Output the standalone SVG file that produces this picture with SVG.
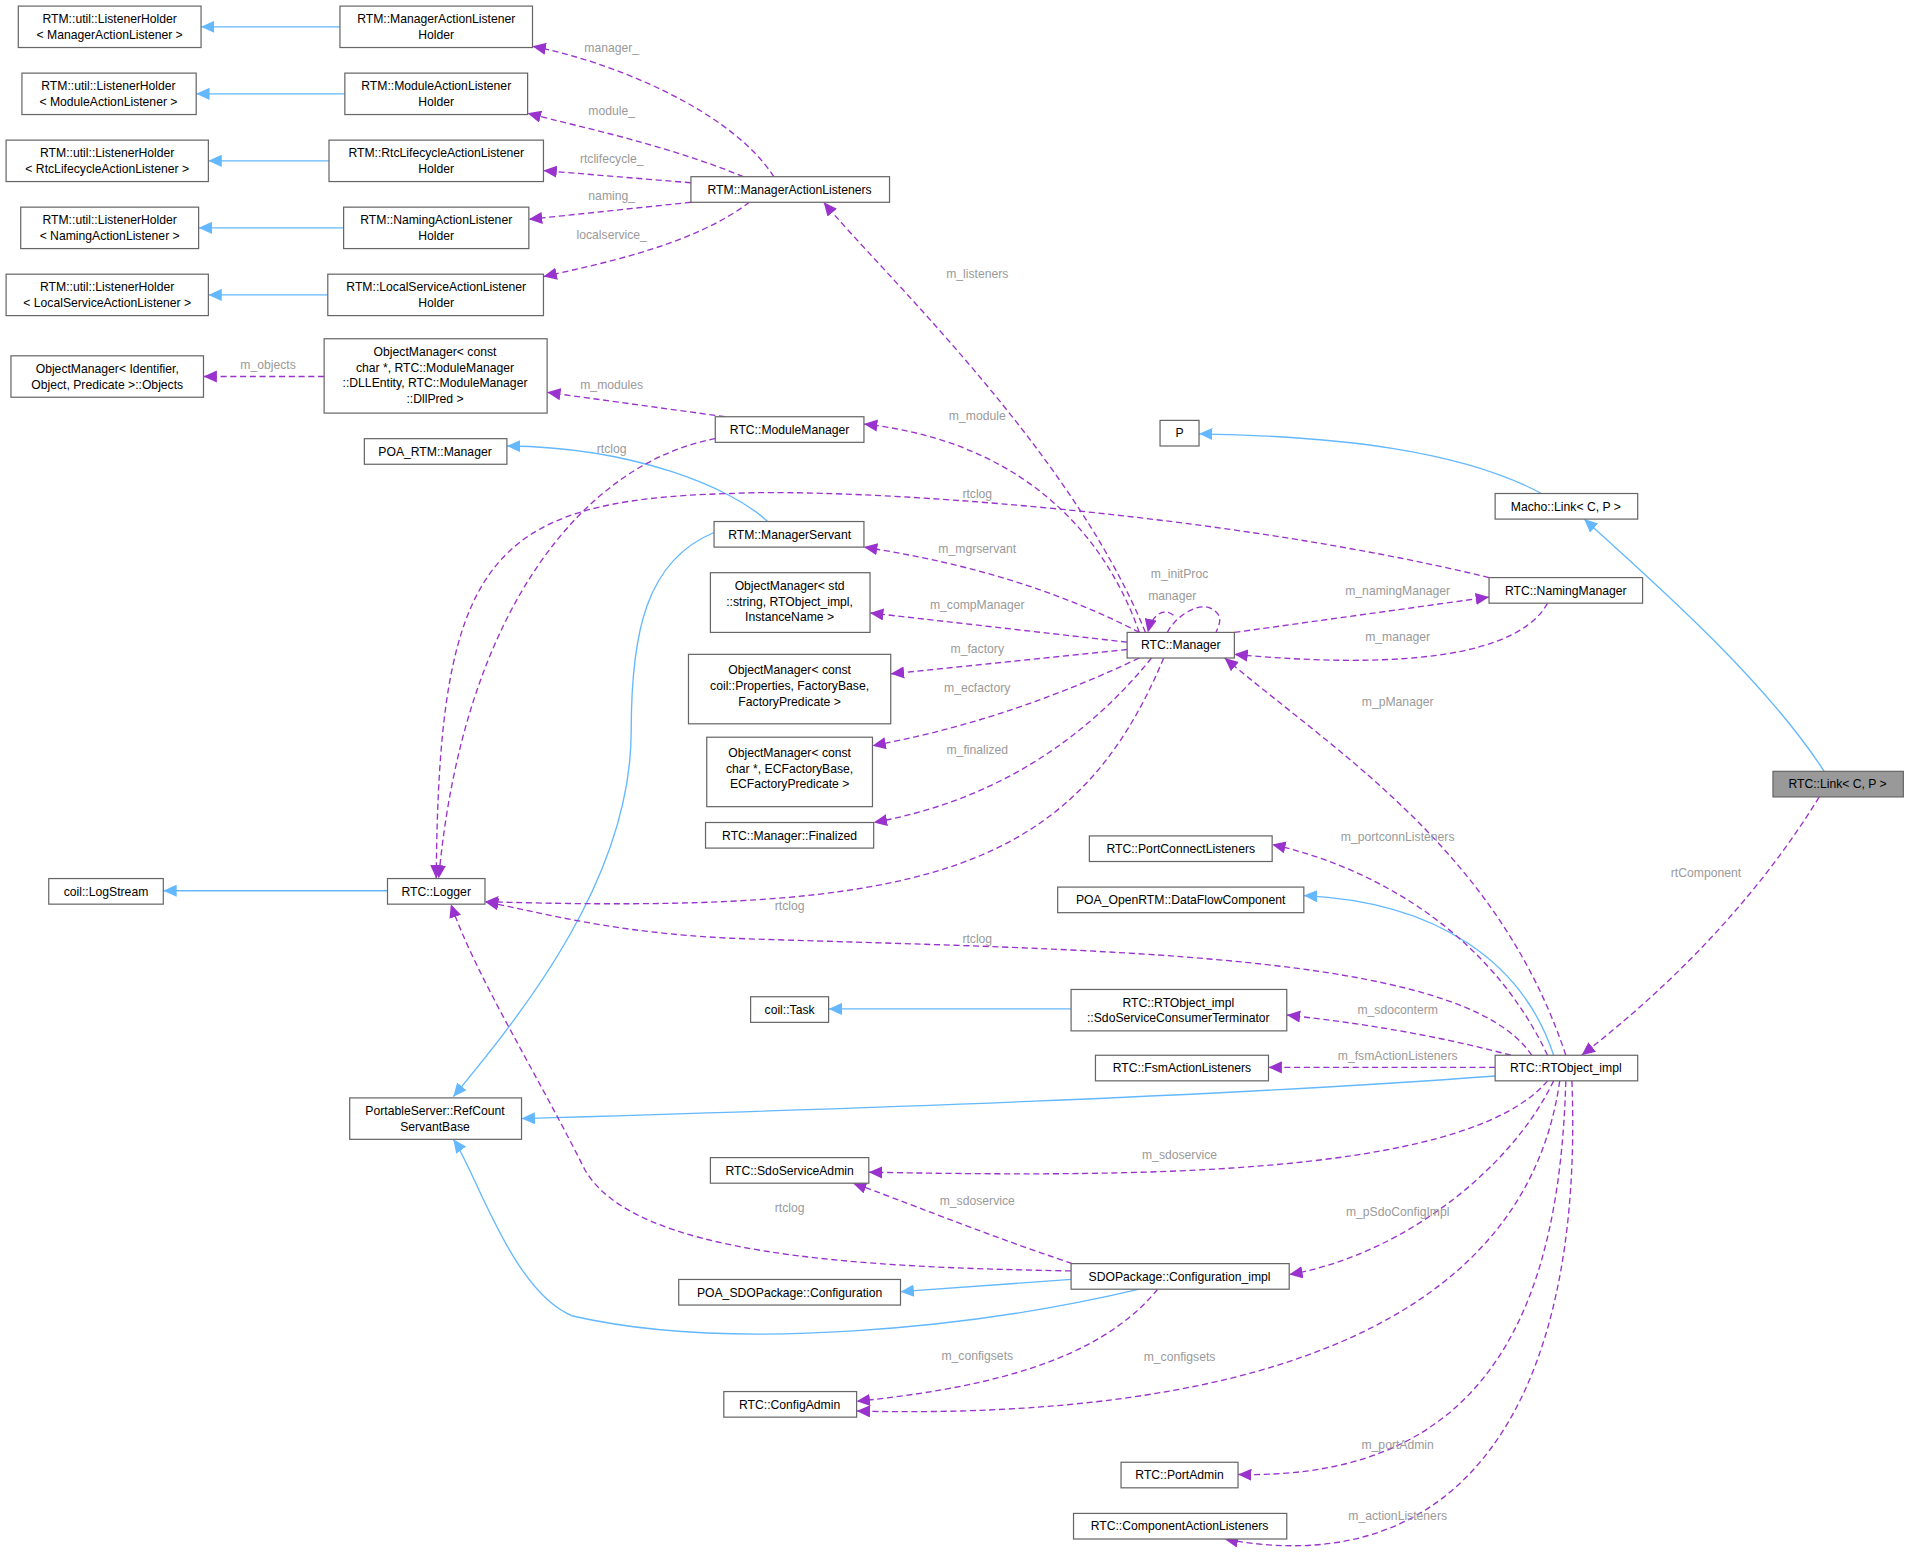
<svg xmlns="http://www.w3.org/2000/svg" width="1907" height="1565" viewBox="0 0 1907 1565">
<style>
.n rect{fill:#fff;stroke:#666;stroke-width:1}
.n text,.t{font-family:"Liberation Sans",Arial,sans-serif;font-size:10px;fill:#000;text-anchor:middle}
.l{font-family:"Liberation Sans",Arial,sans-serif;font-size:10px;fill:#9a9a9a;text-anchor:middle}
.b{fill:none;stroke:#63b8ff;stroke-width:1.1;marker-end:url(#ab)}
.p{fill:none;stroke:#9a32cd;stroke-width:1.1;stroke-dasharray:5,3;marker-end:url(#ap)}
</style>
<defs>
<marker id="ab" markerUnits="userSpaceOnUse" markerWidth="12" markerHeight="10" refX="11" refY="5" orient="auto"><polygon points="0,0 11,5 0,10" fill="#63b8ff"/></marker>
<marker id="ap" markerUnits="userSpaceOnUse" markerWidth="12" markerHeight="10" refX="11" refY="5" orient="auto"><polygon points="0,0 11,5 0,10" fill="#9a32cd"/></marker>
</defs>
<rect width="1907" height="1565" fill="#fff"/>
<g transform="scale(1.21853)">
<g id="connectors">
<path class="b" d="M279,22 L165,22"/>
<path class="b" d="M283,77 L161,77"/>
<path class="b" d="M270,132 L171,132"/>
<path class="b" d="M282,187 L163,187"/>
<path class="b" d="M269,242 L171,242"/>
<path class="b" d="M630,428 C600,400 520,367 416,366"/>
<path class="b" d="M586,437 C530,460 518,520 518,600 C518,720 430,830 372,900"/>
<path class="b" d="M1497,633 C1450,560 1360,480 1300,426"/>
<path class="b" d="M1265,405 C1200,370 1100,358 984,356"/>
<path class="b" d="M1275,866 C1250,790 1180,740 1070,735"/>
<path class="b" d="M879,828 L680,828"/>
<path class="b" d="M1227,883 C1000,900 700,910 428,918"/>
<path class="b" d="M879,1050 L739,1060"/>
<path class="b" d="M935,1058 C800,1090 600,1110 470,1080 C420,1060 390,960 372,935"/>
<path class="b" d="M318,731 L134,731"/>

<path class="p" d="M635,145 C600,90 500,50 437,38"/>
<path class="p" d="M610,145 C550,120 480,105 433,93"/>
<path class="p" d="M567,150 L446,140"/>
<path class="p" d="M567,166 L434,180"/>
<path class="p" d="M615,166 C570,200 500,215 446,227"/>
<path class="p" d="M266,309 L167,309"/>
<path class="p" d="M595,342 L449,322"/>
<path class="p" d="M587,360 C480,380 380,500 360,721"/>
<path class="p" d="M940,519 C880,370 720,220 676,166"/>
<path class="p" d="M935,519 C900,420 820,360 709,348"/>
<path class="p" d="M958,519 C965,505 985,493 995,500 C1005,506 1000,513 998,519 M963,505 C955,498 945,505 942,519"/>
<path class="p" d="M935,519 C860,480 780,460 709,449"/>
<path class="p" d="M925,527 L714,503"/>
<path class="p" d="M925,533 L731,553"/>
<path class="p" d="M935,540 C850,580 780,600 716,612"/>
<path class="p" d="M945,540 C880,620 800,660 717,675"/>
<path class="p" d="M955,540 C880,720 750,750 398,740"/>
<path class="p" d="M1013,519 L1222,490"/>
<path class="p" d="M1270,495 C1240,550 1100,545 1013,537"/>
<path class="p" d="M1222,474 C1000,420 700,400 600,405 C400,410 360,460 358,721"/>
<path class="p" d="M1285,866 C1230,700 1100,620 1005,540"/>
<path class="p" d="M1270,866 C1220,760 1120,710 1044,693"/>
<path class="p" d="M1257,866 C1200,780 900,780 600,770 C500,765 450,750 398,740"/>
<path class="p" d="M1240,866 C1180,850 1120,840 1056,833"/>
<path class="p" d="M1227,876 L1041,876"/>
<path class="p" d="M1270,887 C1200,970 900,965 713,962"/>
<path class="p" d="M1275,887 C1240,960 1150,1030 1058,1046"/>
<path class="p" d="M1280,887 C1250,1100 1000,1165 703,1158"/>
<path class="p" d="M1285,887 C1280,1060 1230,1215 1016,1210"/>
<path class="p" d="M1290,887 C1300,1150 1200,1300 1005,1263"/>
<path class="p" d="M880,1037 C800,1010 740,985 700,971"/>
<path class="p" d="M879,1043 C700,1040 520,1030 480,960 C440,880 390,800 370,742"/>
<path class="p" d="M950,1058 C900,1120 800,1140 703,1150"/>
<path class="p" d="M1493,654 C1440,740 1370,810 1298,866"/>

<text class="l" x="502" y="43">manager_</text>
<text class="l" x="502" y="94">module_</text>
<text class="l" x="502" y="134">rtclifecycle_</text>
<text class="l" x="502" y="164">naming_</text>
<text class="l" x="502" y="196">localservice_</text>
<text class="l" x="220" y="303">m_objects</text>
<text class="l" x="502" y="319">m_modules</text>
<text class="l" x="502" y="372">rtclog</text>
<text class="l" x="802" y="228">m_listeners</text>
<text class="l" x="802" y="345">m_module</text>
<text class="l" x="802" y="409">rtclog</text>
<text class="l" x="968" y="474">m_initProc</text>
<text class="l" x="962" y="492">manager</text>
<text class="l" x="802" y="454">m_mgrservant</text>
<text class="l" x="802" y="500">m_compManager</text>
<text class="l" x="802" y="536">m_factory</text>
<text class="l" x="802" y="568">m_ecfactory</text>
<text class="l" x="802" y="619">m_finalized</text>
<text class="l" x="648" y="747">rtclog</text>
<text class="l" x="1147" y="488">m_namingManager</text>
<text class="l" x="1147" y="526">m_manager</text>
<text class="l" x="1147" y="579">m_pManager</text>
<text class="l" x="1147" y="690">m_portconnListeners</text>
<text class="l" x="802" y="774">rtclog</text>
<text class="l" x="1147" y="832">m_sdoconterm</text>
<text class="l" x="1147" y="870">m_fsmActionListeners</text>
<text class="l" x="968" y="951">m_sdoservice</text>
<text class="l" x="1147" y="998">m_pSdoConfigImpl</text>
<text class="l" x="802" y="989">m_sdoservice</text>
<text class="l" x="648" y="995">rtclog</text>
<text class="l" x="802" y="1116">m_configsets</text>
<text class="l" x="968" y="1117">m_configsets</text>
<text class="l" x="1147" y="1189">m_portAdmin</text>
<text class="l" x="1147" y="1247">m_actionListeners</text>
<text class="l" x="1400" y="720">rtComponent</text>
</g>

<g id="n1" class="n"><rect x="15" y="5" width="150" height="34"/><text x="90" y="19">RTM::util::ListenerHolder</text><text x="90" y="32">&lt; ManagerActionListener &gt;</text></g>
<g id="n2" class="n"><rect x="279" y="5" width="158" height="34"/><text x="358" y="19">RTM::ManagerActionListener</text><text x="358" y="32">Holder</text></g>
<g id="n3" class="n"><rect x="18" y="60" width="143" height="34"/><text x="89" y="74">RTM::util::ListenerHolder</text><text x="89" y="87">&lt; ModuleActionListener &gt;</text></g>
<g id="n4" class="n"><rect x="283" y="60" width="150" height="34"/><text x="358" y="74">RTM::ModuleActionListener</text><text x="358" y="87">Holder</text></g>
<g id="n5" class="n"><rect x="5" y="115" width="166" height="34"/><text x="88" y="129">RTM::util::ListenerHolder</text><text x="88" y="142">&lt; RtcLifecycleActionListener &gt;</text></g>
<g id="n6" class="n"><rect x="270" y="115" width="176" height="34"/><text x="358" y="129">RTM::RtcLifecycleActionListener</text><text x="358" y="142">Holder</text></g>
<g id="n7" class="n"><rect x="17" y="170" width="146" height="34"/><text x="90" y="184">RTM::util::ListenerHolder</text><text x="90" y="197">&lt; NamingActionListener &gt;</text></g>
<g id="n8" class="n"><rect x="282" y="170" width="152" height="34"/><text x="358" y="184">RTM::NamingActionListener</text><text x="358" y="197">Holder</text></g>
<g id="n9" class="n"><rect x="5" y="225" width="166" height="34"/><text x="88" y="239">RTM::util::ListenerHolder</text><text x="88" y="252">&lt; LocalServiceActionListener &gt;</text></g>
<g id="n10" class="n"><rect x="269" y="225" width="177" height="34"/><text x="358" y="239">RTM::LocalServiceActionListener</text><text x="358" y="252">Holder</text></g>
<g id="n11" class="n"><rect x="567" y="145" width="163" height="21"/><text x="648" y="159">RTM::ManagerActionListeners</text></g>
<g id="n12" class="n"><rect x="9" y="292" width="158" height="34"/><text x="88" y="306">ObjectManager&lt; Identifier,</text><text x="88" y="319">Object, Predicate &gt;::Objects</text></g>
<g id="n13" class="n"><rect x="266" y="278" width="183" height="61"/><text x="357" y="292">ObjectManager&lt; const</text><text x="357" y="305">char *, RTC::ModuleManager</text><text x="357" y="318">::DLLEntity, RTC::ModuleManager</text><text x="357" y="331">::DllPred &gt;</text></g>
<g id="n14" class="n"><rect x="587" y="342" width="122" height="21"/><text x="648" y="356">RTC::ModuleManager</text></g>
<g id="n15" class="n"><rect x="299" y="360" width="117" height="21"/><text x="357" y="374">POA_RTM::Manager</text></g>
<g id="n16" class="n"><rect x="586" y="428" width="123" height="21"/><text x="648" y="442">RTM::ManagerServant</text></g>
<g id="n17" class="n"><rect x="952" y="345" width="32" height="21"/><text x="968" y="359">P</text></g>
<g id="n18" class="n"><rect x="1227" y="405" width="117" height="21"/><text x="1285" y="419">Macho::Link&lt; C, P &gt;</text></g>
<g id="n19" class="n"><rect x="1222" y="474" width="126" height="21"/><text x="1285" y="488">RTC::NamingManager</text></g>
<g id="n20" class="n"><rect x="583" y="470" width="131" height="49"/><text x="648" y="484">ObjectManager&lt; std</text><text x="648" y="497">::string, RTObject_impl,</text><text x="648" y="510">InstanceName &gt;</text></g>
<g id="n21" class="n"><rect x="925" y="519" width="88" height="21"/><text x="969" y="533">RTC::Manager</text></g>
<g id="n22" class="n"><rect x="565" y="537" width="166" height="57"/><text x="648" y="553">ObjectManager&lt; const</text><text x="648" y="566">coil::Properties, FactoryBase,</text><text x="648" y="579">FactoryPredicate &gt;</text></g>
<g id="n23" class="n"><rect x="580" y="605" width="136" height="57"/><text x="648" y="621">ObjectManager&lt; const</text><text x="648" y="634">char *, ECFactoryBase,</text><text x="648" y="647">ECFactoryPredicate &gt;</text></g>
<g id="n24" class="n"><rect x="579" y="675" width="138" height="21"/><text x="648" y="689">RTC::Manager::Finalized</text></g>
<g id="n25" class="n"><rect x="1455" y="633" width="107" height="21" style="fill:#999"/><text x="1508" y="647">RTC::Link&lt; C, P &gt;</text></g>
<g id="n26" class="n"><rect x="894" y="686" width="150" height="21"/><text x="969" y="700">RTC::PortConnectListeners</text></g>
<g id="n27" class="n"><rect x="868" y="728" width="202" height="21"/><text x="969" y="742">POA_OpenRTM::DataFlowComponent</text></g>
<g id="n28" class="n"><rect x="40" y="721" width="94" height="21"/><text x="87" y="735">coil::LogStream</text></g>
<g id="n29" class="n"><rect x="318" y="721" width="80" height="21"/><text x="358" y="735">RTC::Logger</text></g>
<g id="n30" class="n"><rect x="616" y="818" width="64" height="21"/><text x="648" y="832">coil::Task</text></g>
<g id="n31" class="n"><rect x="879" y="812" width="177" height="34"/><text x="967" y="826">RTC::RTObject_impl</text><text x="967" y="839">::SdoServiceConsumerTerminator</text></g>
<g id="n32" class="n"><rect x="899" y="866" width="142" height="21"/><text x="970" y="880">RTC::FsmActionListeners</text></g>
<g id="n33" class="n"><rect x="1227" y="866" width="117" height="21"/><text x="1285" y="880">RTC::RTObject_impl</text></g>
<g id="n34" class="n"><rect x="287" y="901" width="141" height="34"/><text x="357" y="915">PortableServer::RefCount</text><text x="357" y="928">ServantBase</text></g>
<g id="n35" class="n"><rect x="583" y="950" width="130" height="21"/><text x="648" y="964">RTC::SdoServiceAdmin</text></g>
<g id="n36" class="n"><rect x="879" y="1037" width="179" height="21"/><text x="968" y="1051">SDOPackage::Configuration_impl</text></g>
<g id="n37" class="n"><rect x="557" y="1050" width="182" height="21"/><text x="648" y="1064">POA_SDOPackage::Configuration</text></g>
<g id="n38" class="n"><rect x="594" y="1142" width="109" height="21"/><text x="648" y="1156">RTC::ConfigAdmin</text></g>
<g id="n39" class="n"><rect x="920" y="1200" width="96" height="21"/><text x="968" y="1214">RTC::PortAdmin</text></g>
<g id="n40" class="n"><rect x="881" y="1242" width="175" height="21"/><text x="968" y="1256">RTC::ComponentActionListeners</text></g>
</g>
</svg>
